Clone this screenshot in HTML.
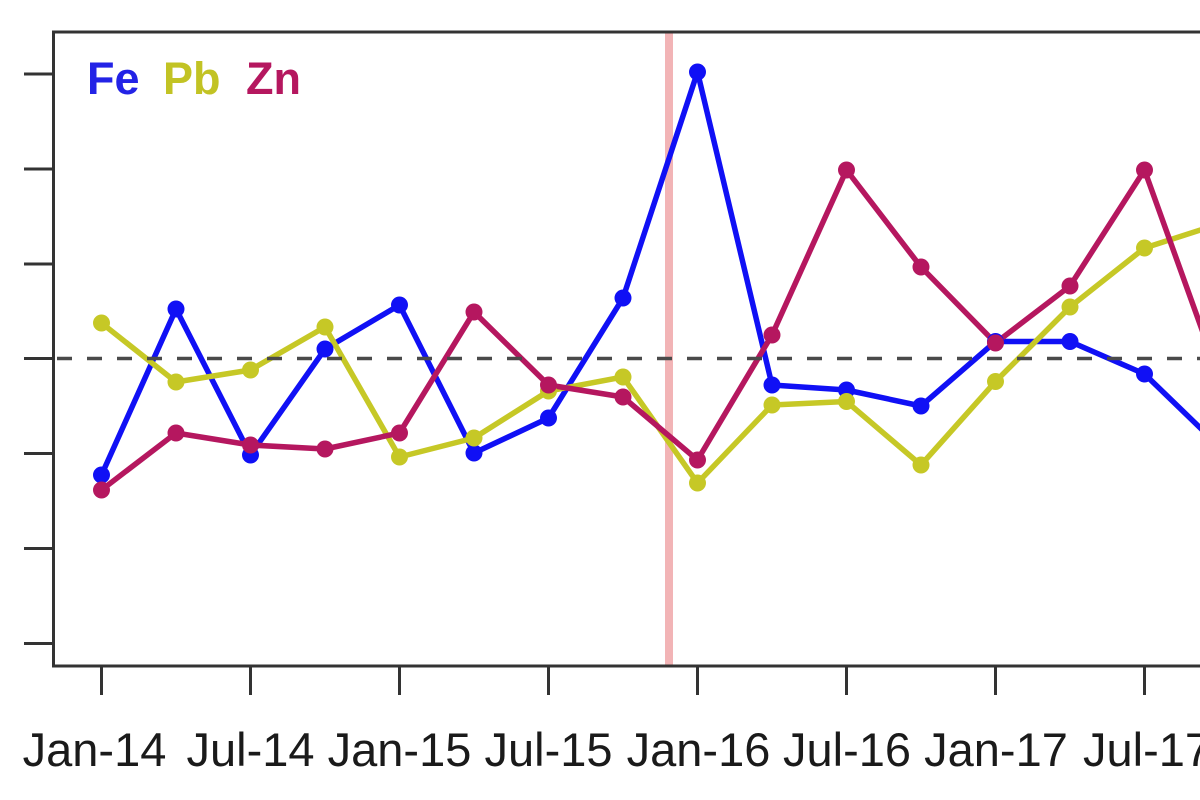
<!DOCTYPE html>
<html><head><meta charset="utf-8"><style>
html,body{margin:0;padding:0;background:#fff;}
svg{display:block;}
text{font-family:"Liberation Sans",Arial,sans-serif;}
</style></head><body>
<svg width="1200" height="800" viewBox="0 0 1200 800" xmlns="http://www.w3.org/2000/svg">
<rect width="1200" height="800" fill="#fff"/>
<line x1="669" y1="33" x2="669" y2="665" stroke="#f2b4b6" stroke-width="8"/>
<g fill="none" stroke-width="5.5" stroke-linejoin="round">
<polyline stroke="#1010f5" points="101.5,475 176,309 250.5,455 325,349 399.5,305 474,453 548.5,418 623,298 697.5,72 772,385 846.5,390 921,406 995.5,341.5 1070,341.5 1144.5,374 1219,446"/>
<polyline stroke="#c6c826" points="101.5,323 176,382 250.5,370 325,327 399.5,457 474,438 548.5,391 623,377 697.5,483 772,405 846.5,401.5 921,465 995.5,381.5 1070,307 1144.5,248 1219,224"/>
<polyline stroke="#b5175f" points="101.5,490 176,433 250.5,445 325,449 399.5,433 474,312 548.5,385 623,397 697.5,460 772,335 846.5,170 921,267 995.5,343 1070,286 1144.5,170 1219,377"/>
</g>
<g fill="#1010f5">
<circle cx="101.5" cy="475" r="8.5"/><circle cx="176" cy="309" r="8.5"/><circle cx="250.5" cy="455" r="8.5"/><circle cx="325" cy="349" r="8.5"/><circle cx="399.5" cy="305" r="8.5"/><circle cx="474" cy="453" r="8.5"/><circle cx="548.5" cy="418" r="8.5"/><circle cx="623" cy="298" r="8.5"/><circle cx="697.5" cy="72" r="8.5"/><circle cx="772" cy="385" r="8.5"/><circle cx="846.5" cy="390" r="8.5"/><circle cx="921" cy="406" r="8.5"/><circle cx="995.5" cy="341.5" r="8.5"/><circle cx="1070" cy="341.5" r="8.5"/><circle cx="1144.5" cy="374" r="8.5"/>
</g>
<g fill="#c6c826">
<circle cx="101.5" cy="323" r="8.5"/><circle cx="176" cy="382" r="8.5"/><circle cx="250.5" cy="370" r="8.5"/><circle cx="325" cy="327" r="8.5"/><circle cx="399.5" cy="457" r="8.5"/><circle cx="474" cy="438" r="8.5"/><circle cx="548.5" cy="391" r="8.5"/><circle cx="623" cy="377" r="8.5"/><circle cx="697.5" cy="483" r="8.5"/><circle cx="772" cy="405" r="8.5"/><circle cx="846.5" cy="401.5" r="8.5"/><circle cx="921" cy="465" r="8.5"/><circle cx="995.5" cy="381.5" r="8.5"/><circle cx="1070" cy="307" r="8.5"/><circle cx="1144.5" cy="248" r="8.5"/>
</g>
<g fill="#b5175f">
<circle cx="101.5" cy="490" r="8.5"/><circle cx="176" cy="433" r="8.5"/><circle cx="250.5" cy="445" r="8.5"/><circle cx="325" cy="449" r="8.5"/><circle cx="399.5" cy="433" r="8.5"/><circle cx="474" cy="312" r="8.5"/><circle cx="548.5" cy="385" r="8.5"/><circle cx="623" cy="397" r="8.5"/><circle cx="697.5" cy="460" r="8.5"/><circle cx="772" cy="335" r="8.5"/><circle cx="846.5" cy="170" r="8.5"/><circle cx="921" cy="267" r="8.5"/><circle cx="995.5" cy="343" r="8.5"/><circle cx="1070" cy="286" r="8.5"/><circle cx="1144.5" cy="170" r="8.5"/>
</g>
<line x1="55" y1="358.5" x2="1200" y2="358.5" stroke="#4a4a4a" stroke-width="3.5" stroke-dasharray="15,15" stroke-dashoffset="-2"/>
<path d="M1210,32 H53.5 V666 H1210" fill="none" stroke="#333" stroke-width="3"/>
<g stroke="#333" stroke-width="3">
<line x1="24" y1="74" x2="53" y2="74"/>
<line x1="24" y1="169" x2="53" y2="169"/>
<line x1="24" y1="264" x2="53" y2="264"/>
<line x1="24" y1="358.5" x2="53" y2="358.5"/>
<line x1="24" y1="453.5" x2="53" y2="453.5"/>
<line x1="24" y1="548.5" x2="53" y2="548.5"/>
<line x1="24" y1="643.5" x2="53" y2="643.5"/>
</g>
<g stroke="#333" stroke-width="3">
<line x1="101.5" y1="666" x2="101.5" y2="695"/>
<line x1="250.5" y1="666" x2="250.5" y2="695"/>
<line x1="399.5" y1="666" x2="399.5" y2="695"/>
<line x1="548.5" y1="666" x2="548.5" y2="695"/>
<line x1="697.5" y1="666" x2="697.5" y2="695"/>
<line x1="846.5" y1="666" x2="846.5" y2="695"/>
<line x1="995.5" y1="666" x2="995.5" y2="695"/>
<line x1="1144.5" y1="666" x2="1144.5" y2="695"/>
</g>
<g font-size="47" fill="#1a1a1a" text-anchor="middle">
<text x="94.5" y="766">Jan-14</text>
<text x="250.5" y="766">Jul-14</text>
<text x="399.5" y="766">Jan-15</text>
<text x="548.5" y="766">Jul-15</text>
<text x="698.5" y="766">Jan-16</text>
<text x="847" y="766">Jul-16</text>
<text x="996" y="766">Jan-17</text>
<text x="1147" y="766">Jul-17</text>
</g>
<g font-size="45" font-weight="bold">
<text x="87" y="94" fill="#2323e6">Fe</text>
<text x="163" y="94" fill="#c2c324">Pb</text>
<text x="246" y="94" fill="#b5175f">Zn</text>
</g>
</svg>
</body></html>
